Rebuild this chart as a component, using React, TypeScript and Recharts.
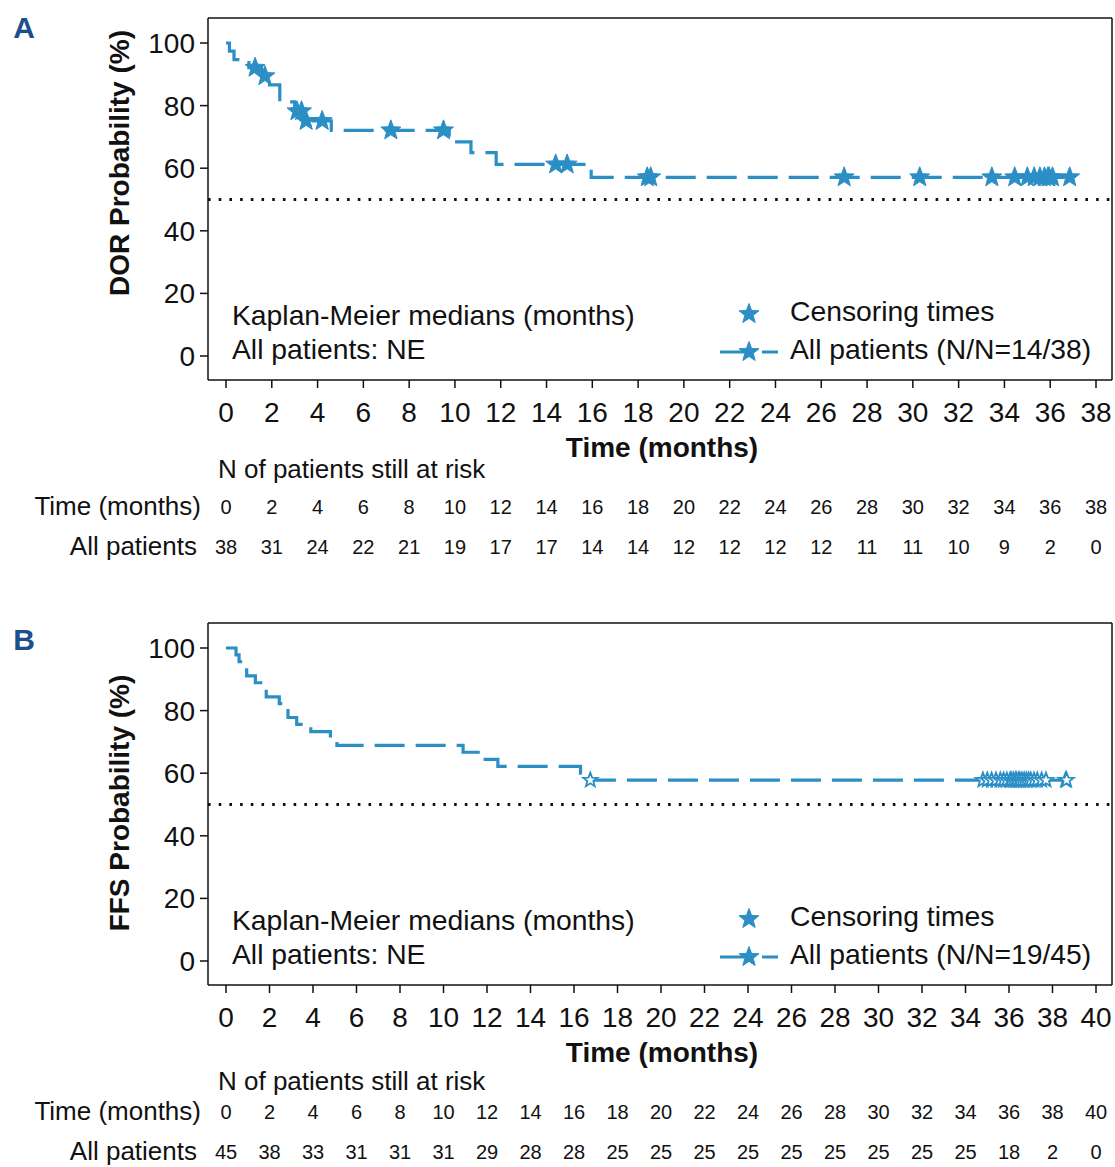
import React from 'react';
import { ComposedChart, Line, Scatter, XAxis, YAxis, ReferenceLine } from 'recharts';

const FONT = '"Liberation Sans", Arial, Helvetica, sans-serif';
const BLUE = '#2b8fc6';
const INK = '#111';
const NAVY = '#1d4f8c';

// panel A - duration of response (step times / survival %)
const dorTimes = [0, 0.15, 0.35, 1.0, 1.55, 1.9, 2.35, 3.0, 3.45, 4.6, 9.75, 10.7, 11.8, 15.95, 36.85];
const dorSurv = [100, 97.4, 94.7, 92.1, 89.4, 86.6, 81.2, 78.2, 75.1, 72.1, 68.4, 65.0, 61.2, 57.1, 57.1];
const dorCensored = [1.27, 1.7, 3.1, 3.3, 3.5, 4.2, 7.2, 9.5, 14.4, 14.9, 18.4, 18.55, 27.0, 30.3, 33.45,
  34.45, 35.0, 35.3, 35.55, 35.75, 35.9, 35.95, 36.1, 36.85];
const dorTicks = [0, 2, 4, 6, 8, 10, 12, 14, 16, 18, 20, 22, 24, 26, 28, 30, 32, 34, 36, 38];
const dorAtRisk = [38, 31, 24, 22, 21, 19, 17, 17, 14, 14, 12, 12, 12, 12, 11, 11, 10, 9, 2, 0];

// panel B - failure-free survival
const ffsTimes = [0, 0.46, 0.6, 0.95, 1.35, 1.85, 2.45, 2.6, 2.85, 3.25, 3.9, 4.8, 5.1, 10.9, 11.7, 12.5, 16.3, 16.5, 38.65];
const ffsSurv = [100, 97.8, 95.6, 91.1, 88.9, 84.4, 82.2, 80.0, 77.8, 75.6, 73.3, 71.1, 68.9, 66.7, 64.4, 62.2, 60.0, 57.8, 57.8];
const ffsCensored = [16.75, 34.8, 35.0, 35.2, 35.4, 35.6, 35.75, 35.9, 36.05, 36.1, 36.2, 36.3, 36.35, 36.45,
  36.5, 36.6, 36.7, 36.8, 36.9, 37.0, 37.15, 37.3, 37.5, 37.7, 38.6, 38.65];
const ffsTicks = [0, 2, 4, 6, 8, 10, 12, 14, 16, 18, 20, 22, 24, 26, 28, 30, 32, 34, 36, 38, 40];
const ffsAtRisk = [45, 38, 33, 31, 31, 31, 29, 28, 28, 25, 25, 25, 25, 25, 25, 25, 25, 25, 18, 2, 0];

const yTicks = [0, 20, 40, 60, 80, 100];

const levelAt = (times: number[], surv: number[], t: number) => {
  let s = surv[0];
  times.forEach((tt, i) => { if (tt <= t) s = surv[i]; });
  return s;
};

const starPath = (cx: number, cy: number, R: number, r: number) => {
  let d = '';
  for (let i = 0; i < 10; i++) {
    const rad = i % 2 === 0 ? R : r;
    const a = -Math.PI / 2 + (i * Math.PI) / 5;
    d += (i === 0 ? 'M' : 'L') + (cx + rad * Math.cos(a)).toFixed(2) + ',' + (cy + rad * Math.sin(a)).toFixed(2);
  }
  return d + 'Z';
};

const Txt = ({ x, y, anchor = 'start', size = 28, bold = false, color = INK, children }: any) => {
  const style: React.CSSProperties = {
    position: 'absolute', top: y - size * 0.6, lineHeight: `${size * 1.2}px`, fontSize: size,
    fontFamily: FONT, fontWeight: bold ? 700 : 400, color, whiteSpace: 'nowrap',
  };
  if (anchor === 'start') style.left = x;
  else if (anchor === 'end') { style.right = 1115 - x; }
  else { style.left = x - 300; style.width = 600; style.textAlign = 'center'; }
  return <div style={style}>{children}</div>;
};

const axisStroke = { stroke: INK, strokeWidth: 1.5 };
const pad = { left: 18, right: 16 };

function KmPanel(p: any) {
  const curve = p.times.map((t: number, i: number) => ({ t, s: p.surv[i] }));
  const marks = p.censored.map((t: number) => ({ t, s: levelAt(p.times, p.surv, t) }));
  const rows = p.ticks.map((t: number, i: number) => ({ t, n: p.atRisk[i] }));
  const riskOf = (v: number) => {
    const r = rows.find((row: any) => row.t === v);
    return r ? String(r.n) : '';
  };
  const xMax = p.ticks[p.ticks.length - 1];
  const starShape = (props: any) => (
    <path d={starPath(props.cx, props.cy, p.starR, p.starR * 0.42)}
      fill={p.hollow ? '#fff' : BLUE} stroke={BLUE} strokeWidth={p.hollow ? 1.8 : 1} />
  );

  return (
    <div style={{ position: 'absolute', left: 0, top: p.top, width: 1115, height: p.height }}>
      <ComposedChart width={1115} height={p.height} data={rows}
        margin={{ top: 17, right: 2, bottom: p.height - 545, left: 0 }}>
        <XAxis dataKey="t" type="number" domain={[0, xMax]} ticks={p.ticks} interval={0} allowDataOverflow
          padding={pad} height={85} tickSize={8} tickMargin={14}
          tick={{ fill: INK, fontSize: 28, fontFamily: FONT }} axisLine={axisStroke} tickLine={axisStroke} />
        <XAxis xAxisId="risk1" dataKey="t" type="number" domain={[0, xMax]} ticks={p.ticks} interval={0}
          padding={pad} height={40} tickSize={0} tickMargin={35} axisLine={false} tickLine={false}
          tick={{ fill: INK, fontSize: 20, fontFamily: FONT }} />
        <XAxis xAxisId="risk2" dataKey="t" type="number" domain={[0, xMax]} ticks={p.ticks} interval={0}
          padding={pad} height={40} tickSize={0} tickMargin={35} axisLine={false} tickLine={false}
          tickFormatter={riskOf} tick={{ fill: INK, fontSize: 20, fontFamily: FONT }} />
        <XAxis xAxisId="top" orientation="top" dataKey="t" type="number" domain={[0, xMax]} height={1}
          tick={false} tickLine={false} axisLine={axisStroke} />
        <YAxis type="number" domain={[0, 100]} ticks={yTicks} interval={0} width={208}
          padding={{ top: 25, bottom: 24 }} tickSize={8} tickMargin={5}
          tick={{ fill: INK, fontSize: 28, fontFamily: FONT }} axisLine={axisStroke} tickLine={axisStroke} />
        <YAxis yAxisId="right" orientation="right" type="number" domain={[0, 100]} width={1}
          tick={false} tickLine={false} axisLine={axisStroke} />
        <ReferenceLine y={50} stroke={INK} strokeWidth={3} strokeDasharray="2.6 8.1" />
        <Line data={curve} dataKey="s" type="stepAfter" stroke={BLUE} strokeWidth={3.2}
          strokeDasharray="30 11" dot={false} activeDot={false} isAnimationActive={false} />
        <Scatter data={marks} dataKey="s" shape={starShape} isAnimationActive={false} />
      </ComposedChart>

      <Txt x={24} y={p.letterY} anchor="middle" size={30} bold color={NAVY}>{p.letter}</Txt>
      <div style={{
        position: 'absolute', left: 120 - 250, top: p.yLabelY - 17, width: 500, height: 34,
        lineHeight: '34px', textAlign: 'center', fontSize: 28, fontWeight: 700, fontFamily: FONT,
        color: INK, transform: 'rotate(-90deg)', whiteSpace: 'nowrap',
      }}>{p.yLabel}</div>

      <Txt x={232} y={316} size={28.3}>Kaplan-Meier medians (months)</Txt>
      <Txt x={232} y={350} size={28.3}>All patients: NE</Txt>
      <svg style={{ position: 'absolute', left: 716, top: 300 }} width={70} height={66}>
        <path d={starPath(33, 14, 10.5, 4.4)} fill={BLUE} stroke={BLUE} strokeWidth={1} />
        <line x1={4} y1={52} x2={28} y2={52} stroke={BLUE} strokeWidth={3} />
        <line x1={46} y1={52} x2={62} y2={52} stroke={BLUE} strokeWidth={3} />
        <path d={starPath(33, 52, 10.5, 4.4)} fill={BLUE} stroke={BLUE} strokeWidth={1} />
      </svg>
      <Txt x={790} y={312} size={28.3}>Censoring times</Txt>
      <Txt x={790} y={350} size={28.3}>{p.legendText}</Txt>

      <Txt x={662} y={448} anchor="middle" bold>Time (months)</Txt>
      <Txt x={218} y={p.headerY} size={26}>N of patients still at risk</Txt>
      <Txt x={201} y={507} anchor="end" size={26}>Time (months)</Txt>
      <Txt x={197} y={547} anchor="end" size={26}>All patients</Txt>
    </div>
  );
}

export default function App() {
  return (
    <div style={{
      position: 'absolute', left: 0, top: 0, width: 1115, height: 1167,
      overflow: 'hidden', background: '#fff',
    }}>
      <KmPanel top={0} height={580} letter="A" letterY={28} yLabel="DOR Probability (%)" yLabelY={163}
        times={dorTimes} surv={dorSurv} censored={dorCensored} ticks={dorTicks} atRisk={dorAtRisk}
        starR={10.5} hollow={false} legendText="All patients (N/N=14/38)" headerY={470} />
      <KmPanel top={605} height={562} letter="B" letterY={35} yLabel="FFS Probability (%)" yLabelY={198}
        times={ffsTimes} surv={ffsSurv} censored={ffsCensored} ticks={ffsTicks} atRisk={ffsAtRisk}
        starR={7.5} hollow={true} legendText="All patients (N/N=19/45)" headerY={477} />
    </div>
  );
}
